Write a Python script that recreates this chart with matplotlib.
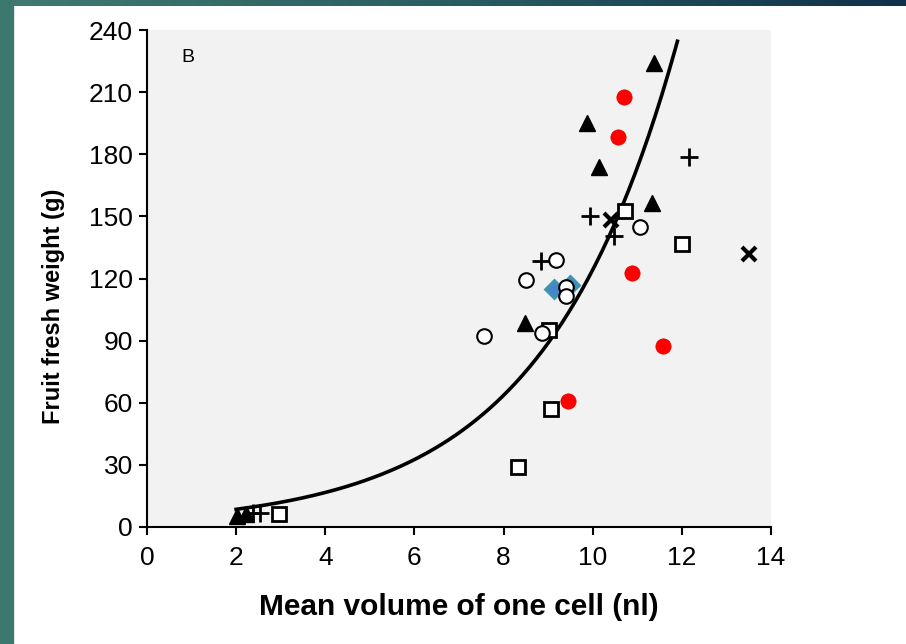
import numpy as np
import matplotlib.pyplot as plt
from matplotlib.patches import Rectangle
from matplotlib.colors import LinearSegmentedColormap

plt.rcParams['font.family'] = ['Liberation Sans', 'DejaVu Sans']

# data (x = mean cell volume nl, y = fruit fresh weight g)
red_x = [10.71, 10.56, 10.89, 11.58, 9.44]
red_y = [207.5, 188.5, 122.5, 87.6, 61.0]

tri_x = [9.88, 10.13, 11.33, 11.38, 8.48, 2.02, 2.22]
tri_y = [195.2, 173.7, 156.6, 223.9, 98.7, 5.3, 6.3]

sq_x = [10.73, 12.00, 9.03, 9.07, 8.32, 2.97]
sq_y = [152.7, 136.5, 95.1, 56.8, 28.8, 6.3]

plus_x = [12.17, 9.93, 10.47, 8.84, 2.38, 2.54]
plus_y = [178.5, 150.2, 140.5, 128.5, 6.8, 6.8]

cross_x = [10.41, 13.50]
cross_y = [148.3, 131.7]

circ_x = [11.06, 9.18, 8.51, 9.40, 9.40, 8.86, 7.57]
circ_y = [145.0, 128.9, 119.3, 115.7, 111.5, 93.5, 92.4]

dia_x = [9.14, 9.48]
dia_y = [114.9, 116.9]

# exponential trendline y = a*exp(b*x)
trend_a = 4.37
trend_b = 0.3347
trend_x0 = 2.0
trend_x1 = 11.9

fig = plt.figure(figsize=(9.06, 6.44), dpi=100)

# slide frame
fig.patches.append(Rectangle((0, 0), 13/906, 1, transform=fig.transFigure,
                             color='#3c786e', zorder=0))
bar = fig.add_axes([0, 1 - 6/644, 1, 6/644])
cmap = LinearSegmentedColormap.from_list('bar', ['#3f7b70', '#2a5d62', '#10304a'])
bar.imshow(np.linspace(0, 1, 256).reshape(1, -1), aspect='auto', cmap=cmap)
bar.axis('off')

ax = fig.add_axes([147/906, 117/644, 624/906, 497/644])
ax.set_facecolor('#f2f2f2')

xs = np.linspace(trend_x0, trend_x1, 200)
ax.plot(xs, trend_a*np.exp(trend_b*xs), color='black', lw=2.6, zorder=1)

ax.plot(sq_x, sq_y, 's', ms=10.5, mfc='white', mec='black', mew=2, zorder=2)
ax.plot(dia_x, dia_y, 'D', ms=9.5, mfc='#4a84cc', mec='#3b97b0', mew=2, zorder=3)
ax.plot(tri_x, tri_y, '^', ms=12, color='black', zorder=4)
ax.plot(plus_x, plus_y, '+', ms=13, color='black', mew=2, zorder=4)
ax.plot(cross_x, cross_y, 'x', ms=10.5, color='black', mew=3, zorder=4)
ax.plot(red_x, red_y, 'o', ms=11, color='#ff0000', mec='#e00000', mew=0.5, zorder=4)
ax.plot(circ_x, circ_y, 'o', ms=10.5, mfc='white', mec='black', mew=1.5, zorder=5)

ax.set_xlim(0, 14)
ax.set_ylim(0, 240)
ax.set_xticks(range(0, 15, 2))
ax.set_yticks(range(0, 241, 30))

for s in ['top', 'right']:
    ax.spines[s].set_visible(False)
for s in ['left', 'bottom']:
    ax.spines[s].set_linewidth(1.5)
ax.tick_params(direction='out', length=6, width=1.5, labelsize=19)
ax.tick_params(axis='x', pad=8)
ax.tick_params(axis='y', pad=4)

ax.set_xlabel('Mean volume of one cell (nl)', fontsize=21.5, fontweight='bold')
ax.set_ylabel('Fruit fresh weight (g)', fontsize=17, fontweight='bold')
ax.xaxis.set_label_coords(0.5, -0.133)
ax.yaxis.set_label_coords(-0.131, 0.445)

ax.text(0.92, 226.5, 'B', fontsize=14, ha='center', va='center')

fig.savefig('out.png', dpi=100)
